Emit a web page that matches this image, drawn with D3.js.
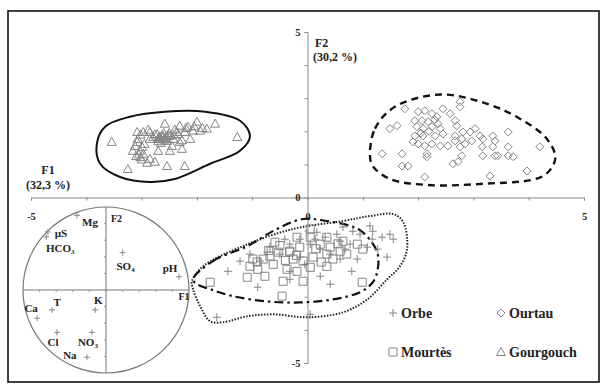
<!DOCTYPE html>
<html>
<head>
<meta charset="utf-8">
<script src="https://cdn.jsdelivr.net/npm/d3@7"></script>
<style>
body{margin:0;background:#fff}
text{font-family:"Liberation Serif","Times New Roman",serif;font-weight:bold;fill:#222}
</style>
</head>
<body>
<div id="chart"></div>
<script>
// observations on F1 x F2
var orbe=[[-1.44,-2.23],[-1.64,-3.62],[-0.90,-2.71],[-0.32,-2.23],[-0.73,-1.65],[1.13,-0.86],[1.18,-1.02],[1.35,-1.20],[1.49,-1.11],[1.55,-1.26],[1.17,-1.26],[0.95,-1.11],[1.44,-1.80],[0.80,-2.23],[0.41,-2.62],[0.23,-2.38],[1.08,-1.50],[0.90,-1.86],[0.05,-3.53],[-0.32,-2.47],[1.27,-1.56],[0.59,-1.32],[0.77,-1.41],[0.53,-1.11],[0.17,-1.05],[0.82,-1.02],[0.64,-0.89],[-0.32,-1.41],[-0.14,-1.26],[0.05,-1.41],[0.23,-1.56],[-0.50,-1.71],[-0.68,-1.50],[-0.14,-1.80],[0.41,-1.71],[-0.86,-1.92],[-0.05,-2.02],[0.59,-1.86],[0.14,-1.26],[0.32,-1.20],[-0.41,-1.26],[-1.04,-1.71],[-1.22,-1.92],[0.68,-1.56]]
var ourtau=[[1.35,1.32],[1.49,2.08],[1.62,2.17],[1.71,1.32],[1.71,0.95],[1.82,0.95],[1.76,2.68],[2.12,0.62],[2.16,1.32],[2.16,1.23],[1.91,1.68],[2.00,2.59],[2.12,2.62],[2.25,2.53],[2.34,2.44],[2.45,2.68],[2.58,2.53],[2.76,2.89],[2.76,2.74],[1.94,2.32],[2.07,2.32],[2.18,2.29],[2.36,2.23],[2.67,2.32],[1.98,2.14],[2.09,2.08],[2.25,2.14],[2.40,2.08],[2.70,2.17],[1.94,1.86],[2.09,1.86],[2.31,1.86],[2.45,1.92],[2.67,1.86],[2.81,1.98],[2.94,1.98],[2.79,1.77],[2.00,1.62],[2.12,1.56],[2.25,1.62],[2.40,1.56],[2.54,1.56],[2.67,1.71],[2.85,1.62],[2.97,1.71],[3.03,2.08],[3.12,1.86],[3.17,1.77],[3.16,1.53],[3.17,1.26],[2.63,1.02],[2.72,1.08],[2.79,1.26],[3.30,0.65],[3.35,1.86],[3.39,1.71],[3.35,1.53],[3.39,1.26],[3.63,1.98],[3.63,1.53],[3.63,1.26],[3.72,1.23],[3.97,0.80],[4.20,1.53],[3.44,1.26],[2.76,1.53],[2.20,2.00],[2.05,1.95],[2.30,2.35]]
var mourtes=[[-1.76,-2.56],[-1.09,-2.41],[-1.04,-2.08],[-0.91,-1.95],[-0.99,-1.86],[-0.80,-1.86],[-0.68,-1.77],[-0.59,-1.35],[-0.53,-1.65],[-0.37,-2.17],[-0.44,-2.53],[-0.46,-2.98],[-0.77,-2.38],[-0.32,-1.65],[-0.26,-1.86],[-0.62,-2.02],[-0.90,-2.17],[0.05,-0.95],[0.05,-1.20],[-0.08,-2.53],[0.99,-2.56],[-0.14,-1.50],[0.23,-1.41],[0.41,-1.50],[0.59,-1.62],[0.71,-1.71],[0.35,-1.71],[0.10,-1.80],[-0.08,-1.92],[0.46,-1.86],[-0.19,-1.20],[-0.32,-1.62],[0.35,-1.20],[0.64,-1.32],[0.90,-1.41],[1.00,-1.56],[0.05,-2.11],[0.35,-2.08],[-0.19,-2.23],[-0.50,-1.45],[-0.20,-1.75],[0.15,-1.55],[0.55,-1.40],[-0.70,-1.60],[0.25,-1.95],[-0.40,-1.90]]
var gourgouch=[[-3.54,1.68],[-1.27,1.83],[-3.25,0.86],[-2.54,0.95],[-2.22,0.95],[-2.76,1.08],[-2.85,1.17],[-2.97,1.32],[-3.03,1.41],[-3.16,1.41],[-2.70,1.41],[-2.49,1.41],[-2.27,1.47],[-2.45,1.56],[-2.31,1.68],[-3.08,1.68],[-2.00,2.29],[-1.67,2.23],[-1.82,2.08],[-2.58,2.23],[-2.31,2.17],[-2.16,2.14],[-3.08,1.98],[-2.97,1.98],[-2.85,1.98],[-2.72,1.92],[-2.61,1.86],[-2.49,1.86],[-2.36,1.98],[-2.22,1.98],[-2.07,2.02],[-1.94,2.02],[-3.07,1.77],[-2.85,1.77],[-2.70,1.77],[-2.54,1.71],[-2.43,1.77],[-3.12,1.56],[-2.99,1.53],[-2.79,1.83],[-2.67,1.80],[-2.58,1.75],[-2.64,1.86],[-2.76,1.90],[-2.50,1.95],[-2.12,1.77],[-2.27,1.73],[-2.40,2.05],[-2.88,2.05],[-3.02,1.90],[-2.95,1.62],[-2.65,1.65],[-2.20,2.10],[-2.05,2.15],[-1.90,2.10],[-3.10,1.25],[-3.00,1.15],[-2.90,1.05],[-2.60,1.95],[-2.55,1.85],[-2.70,1.70],[-2.62,1.82],[-2.56,1.80],[-2.68,1.84],[-2.60,1.76],[-2.52,1.88],[-3.05,1.30],[-3.02,1.22],[-2.42,1.90],[-2.34,1.92]]

// envelopes drawn round each group
var orbeHull=[[-2.09,-2.53],[-1.89,-2.08],[-1.17,-1.47],[-0.26,-0.95],[0.64,-0.71],[1.13,-0.56],[1.55,-0.50],[1.73,-0.74],[1.80,-1.56],[1.67,-2.08],[1.44,-2.47],[1.08,-3.08],[0.64,-3.47],[-0.01,-3.62],[-0.62,-3.53],[-1.09,-3.59],[-1.53,-3.77],[-1.76,-3.74],[-1.94,-3.29],[-2.07,-2.77]]
var mourtesHull=[[-2.07,-2.47],[-1.71,-1.92],[-1.09,-1.47],[-0.55,-0.95],[-0.08,-0.65],[0.35,-0.71],[0.77,-0.86],[1.00,-1.05],[1.26,-1.65],[1.27,-2.17],[1.18,-2.56],[0.95,-2.86],[0.46,-3.08],[-0.14,-3.17],[-0.73,-3.14],[-1.35,-2.98],[-1.76,-2.77],[-2.00,-2.62]]
var ourtauHull=[[1.13,1.26],[1.22,2.08],[1.58,2.74],[2.40,3.11],[3.25,2.83],[3.84,2.38],[4.33,1.77],[4.48,1.17],[4.26,0.65],[3.12,0.41],[2.16,0.38],[1.49,0.56],[1.18,0.95]]
var gourgouchHull=[[-3.81,1.62],[-3.66,2.14],[-3.21,2.44],[-2.58,2.59],[-1.85,2.59],[-1.22,2.32],[-1.04,1.86],[-1.22,1.41],[-1.76,1.02],[-2.40,0.56],[-2.85,0.47],[-3.39,0.62],[-3.75,1.02]]

// correlation circle: variables on F1, F2
var varNames=["Mg","µS","HCO|3","SO|4","pH","Ca","T","K","Cl","NO|3","Na"]
var varF1=[-0.35,-0.70,-0.72,0.20,0.88,-0.83,-0.65,-0.13,-0.59,-0.17,-0.23]
var varF2=[0.90,0.70,0.64,0.45,0.16,-0.34,-0.24,-0.24,-0.51,-0.51,-0.81]
var labelOff=[[13,7],[13,1],[14,11],[3,13],[-9,-9],[-6,-10],[5,-8],[3,-10],[-4,10],[-4,10],[-17,-2]]

var axisTicks=[-5,-4,-3,-2,-1,0,1,2,3,4,5]
var shownTicks=[-5,0,5]
var legendNames=["Orbe","Ourtau","Mourtès","Gourgouch"]

var W=604,H=386
var svg=d3.select("#chart").append("svg").attr("width",W).attr("height",H)

svg.append("rect").attr("x",8).attr("y",11).attr("width",591).attr("height",371)
	.attr("fill","none").attr("stroke","#111").attr("stroke-width",1.6)

var x=d3.scaleLinear().domain([-5,5]).range([31,584])
var y=d3.scaleLinear().domain([-5,5]).range([363,32])

var fmt=function(d){return shownTicks.indexOf(d)>=0?String(d):""}

var xAx=svg.append("g").attr("transform","translate(0,"+y(0)+")")
	.call(d3.axisBottom(x).tickValues(axisTicks).tickSize(3).tickPadding(12).tickFormat(fmt))
var yAx=svg.append("g").attr("transform","translate("+x(0)+",0)")
	.call(d3.axisLeft(y).tickValues(axisTicks).tickSize(3).tickPadding(4).tickFormat(fmt))
;[xAx,yAx].forEach(function(a){
	a.select(".domain").attr("stroke","#888")
	a.selectAll(".tick line").attr("stroke","#888")
	a.selectAll("text").attr("font-size",10.5).attr("font-family","Liberation Serif").attr("font-weight","bold").attr("fill","#222")
})
yAx.selectAll(".tick").filter(function(d){return d==0}).select("text").attr("dy","0.32em")

// axis titles
svg.append("text").attr("x",48).attr("y",174).attr("text-anchor","middle").attr("font-size",12).text("F1")
svg.append("text").attr("x",48).attr("y",189).attr("text-anchor","middle").attr("font-size",12).text("(32,3 %)")
svg.append("text").attr("x",315).attr("y",47).attr("font-size",12).text("F2")
svg.append("text").attr("x",313).attr("y",61).attr("font-size",12).text("(30,2 %)")

// envelopes
var line=d3.line().x(function(d){return x(d[0])}).y(function(d){return y(d[1])}).curve(d3.curveCatmullRomClosed.alpha(0.5))
svg.append("path").attr("d",line(gourgouchHull)).attr("fill","none").attr("stroke","#111").attr("stroke-width",2)
svg.append("path").attr("d",line(ourtauHull)).attr("fill","none").attr("stroke","#111").attr("stroke-width",2.4).attr("stroke-dasharray","7,5")
svg.append("path").attr("d",line(orbeHull)).attr("fill","none").attr("stroke","#222").attr("stroke-width",2).attr("stroke-dasharray","1.5,1.5")
svg.append("path").attr("d",line(mourtesHull)).attr("fill","none").attr("stroke","#111").attr("stroke-width",2.2).attr("stroke-dasharray","9,4,2.5,4")

var shapes={
	plus:"M-4,0H4M0,-4V4",
	diamond:"M0,-4L4,0L0,4L-4,0Z",
	square:"M-4,-4H4V4H-4Z",
	tri:"M0,-4.5L4.5,3.5L-4.5,3.5Z"
}
function drawGroup(data,shape){
	svg.append("g").selectAll("path").data(data).enter().append("path")
		.attr("d",shapes[shape])
		.attr("transform",function(d){return "translate("+x(d[0])+","+y(d[1])+")"})
		.attr("fill","none").attr("stroke","#858585").attr("stroke-width",1)
}
drawGroup(orbe,"plus")
drawGroup(mourtes,"square")
drawGroup(ourtau,"diamond")
drawGroup(gourgouch,"tri")

// correlation circle
var cx=d3.scaleLinear().domain([-1,1]).range([23,189])
var cy=d3.scaleLinear().domain([-1,1]).range([373,207])
var cg=svg.append("g")
cg.append("circle").attr("cx",cx(0)).attr("cy",cy(0)).attr("r",cx(1)-cx(0)).attr("fill","#fff").attr("stroke","#777").attr("stroke-width",1.2)
cg.append("line").attr("x1",cx(-1)).attr("x2",cx(1)).attr("y1",cy(0)).attr("y2",cy(0)).attr("stroke","#777")
cg.append("line").attr("x1",cx(0)).attr("x2",cx(0)).attr("y1",cy(-1)).attr("y2",cy(1)).attr("stroke","#777")
var cTicks=d3.range(-8,9,2).map(function(d){return d/10})
cg.selectAll(".hx").data(cTicks).enter().append("line").attr("x1",function(d){return cx(d)}).attr("x2",function(d){return cx(d)})
	.attr("y1",cy(0)).attr("y2",cy(0)+2).attr("stroke","#999")
cg.selectAll(".vy").data(cTicks).enter().append("line").attr("y1",function(d){return cy(d)}).attr("y2",function(d){return cy(d)})
	.attr("x1",cx(0)).attr("x2",cx(0)-2).attr("stroke","#999")
cg.append("text").attr("x",cx(0)+5).attr("y",cy(0.82)).attr("font-size",10).text("F2")
cg.append("text").attr("x",cx(0.94)).attr("y",cy(-0.12)).attr("text-anchor","middle").attr("font-size",10).text("F1")

varNames.forEach(function(n,i){
	var px=cx(varF1[i]),py=cy(varF2[i])
	cg.append("path").attr("d","M-3,0H3M0,-3V3").attr("transform","translate("+px+","+py+")").attr("stroke","#888").attr("fill","none")
	var parts=n.split("|")
	var t=cg.append("text").attr("x",px+labelOff[i][0]).attr("y",py+labelOff[i][1]).attr("dy","0.35em")
		.attr("text-anchor","middle").attr("font-size",11).attr("fill","#333")
	t.append("tspan").text(parts[0])
	if(parts[1]) t.append("tspan").attr("font-size",7).attr("dy","0.3em").text(parts[1])
})

// legend
var legShape=["plus","diamond","square","tri"]
var legX=[393,501,393,501],legY=[313,313,352,352]
legendNames.forEach(function(n,i){
	svg.append("path").attr("d",shapes[legShape[i]]).attr("transform","translate("+legX[i]+","+legY[i]+")")
		.attr("fill","none").attr("stroke","#858585")
	svg.append("text").attr("x",legX[i]+8).attr("y",legY[i]).attr("dy","0.35em").attr("font-size",14).text(n)
})
</script>
</body>
</html>
